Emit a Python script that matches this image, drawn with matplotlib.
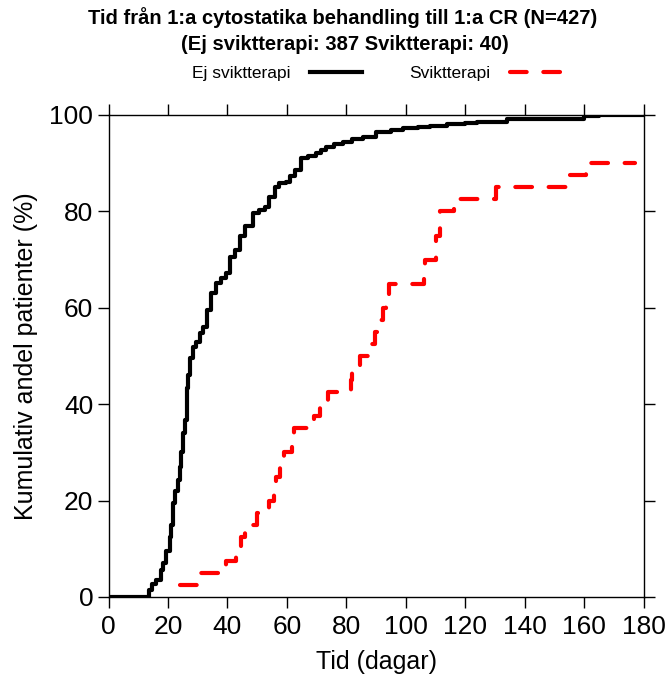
import matplotlib
matplotlib.use("Agg")
import matplotlib.pyplot as plt

plt.rcParams['font.family'] = ['Liberation Sans', 'DejaVu Sans']

# Cumulative share reaching first CR, group without salvage therapy (N=387)
black_days = [0, 13.5, 14.5, 16, 17.5, 18.4, 19.5, 20.6, 21, 21.7, 22.5, 23.3,
              24, 24.5, 25.1, 25.7, 26.3, 26.8, 27.4, 28.5, 29.5, 30.7, 31.9,
              33, 34.6, 36.3, 38, 39.7, 40.8, 42.5, 44.1, 46, 48.6, 50.5, 52.5,
              54, 55.9, 57.5, 59.8, 61, 62.6, 64.8, 67, 69.8, 71.5, 73.2, 76,
              78.8, 82, 85.5, 90, 95, 99.2, 104, 108.2, 114, 120, 124, 134,
              160, 165, 180]
black_pct = [0, 1.5, 2.8, 3.5, 5.5, 7, 9.5, 12.5, 15, 19.4, 22, 24.3,
             27, 30.1, 34, 36.7, 43.3, 46, 49.5, 51.9, 53, 54.7, 56,
             59.5, 63, 65.1, 66.2, 67.2, 70.6, 72, 74.8, 77, 79.6, 80.3, 81,
             83, 85.1, 85.8, 86.2, 87.3, 88.6, 91, 91.5, 92.1, 92.8, 93.4, 94,
             94.5, 95, 95.5, 96.5, 96.9, 97.2, 97.5, 97.8, 98.1, 98.3, 98.6, 99.2,
             99.7, 100, 100]

# Group with salvage therapy (N=40), one step per event
red_days = [24, 31, 39.5, 43, 44.5, 46, 50, 54, 55.7, 56.5, 57.7, 59, 61.6,
            62.5, 69, 71, 74, 81.5, 82, 84.5, 88, 89.5, 90.5, 92.2, 93.5, 94.4,
            106.3, 106.4, 110.1, 110.2, 111.5, 111.6, 116.3, 130.5, 153.9,
            160.7, 177]
red_pct = [2.5, 5, 7.5, 10, 12.5, 15, 17.5, 20, 22.5, 25, 27.5, 30, 32.5,
           35, 37.5, 40, 42.5, 45, 47.5, 50, 52.5, 55, 57.5, 60, 62.5, 65,
           67.5, 70, 72.5, 75, 77.5, 80, 82.5, 85, 87.5,
           90, 90]

x_ticks = list(range(0, 181, 20))
y_ticks = list(range(0, 101, 20))

W, H = 667, 677
fig = plt.figure(figsize=(W / 100, H / 100), dpi=100)
ax = fig.add_axes([108.5 / W, 1 - 597 / H, 535 / W, 482 / H])

l1, = ax.plot(black_days, black_pct, drawstyle='steps-post', color='black',
              lw=3, label='Ej sviktterapi')
l2, = ax.plot(red_days, red_pct, drawstyle='steps-post', color='red',
              lw=3, ls=(0, (4, 4)), dash_capstyle='round',
              label='Sviktterapi')

ax.set_xlim(0, 180)
ax.set_ylim(0, 100)
ax.set_xticks(x_ticks)
ax.set_yticks(y_ticks)
ax.tick_params(direction='out', length=8, width=1, top=True, right=True,
               labelsize=19)
ax.tick_params(axis='x', pad=5)
ax.tick_params(axis='y', pad=3)
for s in ax.spines.values():
    s.set_linewidth(1)

ax.set_xlabel('Tid (dagar)', fontsize=18, labelpad=8)
ax.set_ylabel('Kumulativ andel patienter (%)', fontsize=18, labelpad=8)

fig.text(343 / W, 1 - 18 / H,
         'Tid från 1:a cytostatika behandling till 1:a CR (N=427)',
         ha='center', va='center', fontsize=14.5, fontweight='bold')
fig.text(345 / W, 1 - 45 / H, '(Ej sviktterapi: 387 Sviktterapi: 40)',
         ha='center', va='center', fontsize=14.5, fontweight='bold')

fig.legend(handles=[l1, l2], loc='center', bbox_to_anchor=(377 / W, 1 - 73 / H),
           ncol=2, frameon=False, markerfirst=False, fontsize=12.5,
           handlelength=3.0, handletextpad=1.1, columnspacing=2.76)

fig.savefig('out.png', dpi=100)
